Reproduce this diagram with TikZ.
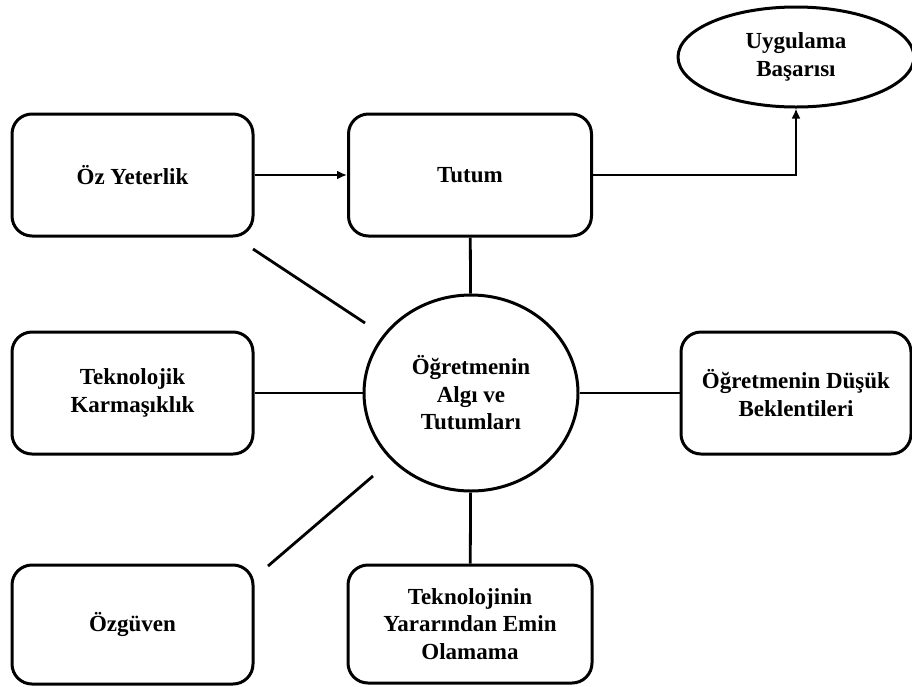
\documentclass[tikz,border=0pt]{standalone}
\usepackage{fontspec}
\setmainfont{Liberation Serif}
\usepackage{tikz}
\usetikzlibrary{shapes.geometric,arrows.meta}
\newcommand{\yazi}{\fontsize{23}{27.5}\selectfont\bfseries}

\begin{document}
\begin{tikzpicture}
[x=1pt,y=-1pt,
 kutu/.style={draw,rounded corners=20pt,line width=3pt,minimum width=241pt,minimum height=122pt,align=center,font=\yazi,inner sep=0pt},
 oval/.style={draw,ellipse,line width=3pt,align=center,font=\yazi,inner sep=0pt},
 cizgi/.style={line width=2.8pt}]
\useasboundingbox (0,0) rectangle (912,686);

\node[kutu] (v1) at (132.5,175) {Öz Yeterlik};
\node[kutu,minimum width=243pt] (v2) at (470,175) {Tutum};
\node[oval,minimum width=236pt,minimum height=100pt] (v3) at (796,57) {Uygulama\\Başarısı};

\node[oval,minimum width=214pt,minimum height=196pt] (v4) at (471,393) {Öğretmenin\\Algı ve\\Tutumları};
\node[kutu] (v5) at (132.5,393) {Teknolojik\\Karmaşıklık};
\node[kutu,minimum width=230pt] (v6) at (796,393) {Öğretmenin Düşük\\Beklentileri};

\node[kutu,minimum height=119pt] (v7) at (132.5,624.5) {Özgüven};
\node[kutu,minimum width=244pt,minimum height=118pt] (v8) at (470,624) {Teknolojinin\\Yararından Emin\\Olamama};

\coordinate (d1) at (253,249);
\coordinate (d2) at (365,323);
\coordinate (d3) at (373,476);
\coordinate (d4) at (268,566);

\draw[cizgi,-{Latex[length=10pt,width=9pt]}] (v1) -- (v2);
\draw[cizgi,-{Latex[length=10pt,width=9pt]}] (v2.east) -| (v3.south);

\foreach \from/\to in {v2/v4,v5/v4,v6/v4,v8/v4,d1/d2,d3/d4}
\draw[cizgi] (\from) -- (\to);
\end{tikzpicture}
\end{document}
